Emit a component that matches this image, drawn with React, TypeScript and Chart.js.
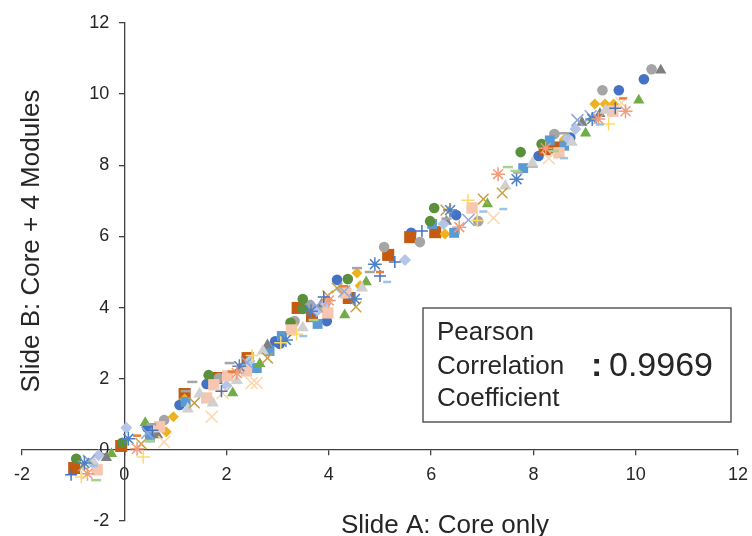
import React, { useEffect, useRef } from "react";
import { Chart, registerables } from "chart.js";

Chart.register(...registerables);

type P = [number, number];

const xTickValues = [-2, 0, 2, 4, 6, 8, 10, 12];
const yTickValues = [-2, 0, 2, 4, 6, 8, 10, 12];
const xTitle = "Slide A: Core only";
const yTitle = "Slide B: Core + 4 Modules";
const boxLines = ["Pearson", "Correlation", "Coefficient"];
const boxValue = ": 0.9969";

const blueCircle: P[] = [[0.45, 0.62], [1.08, 1.26], [1.61, 1.85], [2.95, 3.05], [3.04, 2.98], [3.96, 3.62], [4.16, 4.78], [5.61, 6.1], [6.49, 6.6], [8.1, 8.26], [8.72, 8.78], [9.67, 10.11], [10.16, 10.42]];
const orangeSquare: P[] = [[-0.98, -0.51], [-0.06, 0.11], [1.18, 1.57], [1.8, 2.02], [2.41, 2.58], [3.39, 3.99], [3.67, 3.76], [4.39, 4.27], [5.16, 5.48], [5.59, 5.98], [6.08, 6.12], [8.22, 8.45], [8.42, 8.5]];
const grayCircle: P[] = [[0.53, 0.42], [0.78, 0.84], [1.85, 2.02], [2.29, 2.3], [3.33, 3.62], [3.63, 4.07], [5.08, 5.7], [5.78, 5.84], [6.92, 6.43], [8.41, 8.88], [9.35, 10.11], [10.31, 10.7]];
const goldDiamond: P[] = [[0.82, 0.51], [0.96, 0.93], [1.18, 1.43], [3.3, 3.5], [3.86, 3.99], [4.55, 4.97], [4.61, 4.61], [6.27, 6.07], [8.6, 8.72], [9.2, 9.72], [9.4, 9.72], [9.57, 9.72]];
const blueSquare: P[] = [[0.5, 0.35], [1.2, 1.35], [2.59, 2.3], [2.84, 2.78], [3.08, 3.2], [3.78, 3.54], [6.02, 6.35], [6.45, 6.1], [7.8, 7.92], [8.32, 8.7], [8.6, 8.55]];
const greenCircle: P[] = [[-0.94, -0.25], [-0.04, 0.2], [1.65, 2.1], [3.25, 3.57], [3.49, 3.96], [3.49, 4.24], [4.37, 4.8], [5.98, 6.43], [6.06, 6.8], [7.75, 8.37], [8.16, 8.6]];
const greenTriangle: P[] = [[-0.25, -0.11], [0.41, 0.76], [2.12, 1.6], [2.65, 2.42], [4.31, 3.79], [4.73, 4.72], [7.1, 6.91], [9.02, 8.9], [9.16, 9.33], [10.06, 9.83]];
const darkGrayTriangle: P[] = [[-0.35, -0.22], [0.65, 0.42], [2.8, 2.95], [3.86, 4.1], [6.3, 6.42], [7.98, 8.03], [8.95, 9.2], [9.3, 9.45], [10.49, 10.67]];
const lightBlueDiamond: P[] = [[-0.5, -0.15], [0.04, 0.62], [2.0, 1.8], [2.45, 2.5], [3.76, 3.9], [3.94, 4.1], [4.25, 4.5], [5.49, 5.34], [6.24, 6.35], [8.67, 8.76], [8.82, 9.02]];
const pinkSquare: P[] = [[-0.53, -0.56], [0.69, 0.65], [1.61, 1.46], [1.75, 1.83], [2.02, 2.08], [2.39, 2.22], [3.27, 3.37], [3.98, 3.85], [4.33, 4.41], [6.8, 6.8], [8.5, 8.35], [9.55, 9.52]];
const lightGrayTriangle: P[] = [[-0.6, -0.35], [1.24, 1.15], [1.47, 1.57], [1.73, 1.32], [2.2, 1.95], [2.71, 2.78], [3.49, 3.43], [4.65, 4.55], [7.45, 7.42], [7.98, 8.06], [8.75, 8.65], [9.41, 9.55]];
const lightBlueX: P[] = [[-0.69, -0.31], [0.45, 0.48], [2.4, 2.45], [3.76, 4.05], [4.3, 4.45], [6.73, 6.46], [8.86, 9.27], [9.12, 9.38]];
const peachX: P[] = [[0.78, 0.22], [1.71, 0.93], [1.92, 1.6], [2.49, 1.88], [2.59, 1.88], [7.22, 6.52], [8.3, 8.2], [9.72, 9.75]];
const goldX: P[] = [[-0.8, -0.45], [0.33, 0.17], [1.37, 1.32], [2.8, 2.58], [3.98, 4.33], [4.16, 4.55], [4.53, 4.02], [6.29, 6.74], [7.02, 7.05], [7.39, 7.22]];
const blueStar: P[] = [[-0.78, -0.37], [0.08, 0.31], [2.25, 2.35], [3.16, 3.09], [3.65, 3.9], [4.51, 4.24], [4.9, 5.22], [6.37, 6.74], [7.67, 7.61], [9.15, 9.3]];
const salmonStar: P[] = [[-0.72, -0.67], [0.25, 0.03], [2.2, 2.16], [4.0, 4.2], [6.55, 6.26], [7.31, 7.75], [8.24, 8.48], [9.27, 9.3], [9.8, 9.52]];
const bluePlus: P[] = [[-1.04, -0.7], [0.55, 0.55], [1.9, 1.65], [3.9, 4.3], [5.0, 4.89], [5.29, 5.28], [5.82, 6.15], [9.6, 9.6]];
const yellowPlus: P[] = [[-0.84, -0.76], [0.37, -0.2], [2.5, 2.65], [3.06, 3.01], [3.37, 3.26], [6.72, 7.02], [6.9, 6.45], [9.47, 9.16]];
const grayDash: P[] = [[0.53, 0.72], [1.2, 1.65], [1.33, 1.91], [2.06, 2.44], [4.55, 5.11], [4.8, 5.0], [6.3, 6.5], [7.7, 7.8], [8.6, 8.9]];
const orangeDash: P[] = [[0.25, 0.4], [2.1, 2.2], [4.3, 4.6], [5.0, 5.0], [9.75, 9.88]];
const blueDash: P[] = [[-0.6, -0.45], [3.5, 3.2], [5.14, 4.72], [7.02, 6.7], [7.41, 6.77], [8.6, 8.2], [9.3, 9.15]];
const greenDash: P[] = [[-0.55, -0.85], [0.5, 0.25], [3.7, 3.65], [7.5, 7.95], [7.65, 7.84], [8.4, 8.4]];

const FONT = "'Liberation Sans', Arial, sans-serif";

type SeriesDef = { data: P[]; style: string; color: string; r: number; line?: boolean; bw?: number };

const series: SeriesDef[] = [
  { data: blueCircle, style: "circle", color: "#4472C4", r: 5.3 },
  { data: orangeSquare, style: "rect", color: "#C55A11", r: 8.5 },
  { data: grayCircle, style: "circle", color: "#A5A5A5", r: 5.3 },
  { data: goldDiamond, style: "rectRot", color: "#EEB220", r: 5.5 },
  { data: blueSquare, style: "rect", color: "#5B9BD5", r: 7 },
  { data: greenCircle, style: "circle", color: "#5A8F3C", r: 5.3 },
  { data: greenTriangle, style: "triangle", color: "#70AD47", r: 6.5 },
  { data: darkGrayTriangle, style: "triangle", color: "#7F7F7F", r: 6.5 },
  { data: lightBlueDiamond, style: "rectRot", color: "#B4C5E7", r: 6 },
  { data: pinkSquare, style: "rect", color: "#F6C6B0", r: 8 },
  { data: lightGrayTriangle, style: "triangle", color: "#D0D0D0", r: 7 },
  { data: lightBlueX, style: "crossRot", color: "#8EA9DB", r: 8.5, line: true, bw: 1.5 },
  { data: peachX, style: "crossRot", color: "#FFD5AA", r: 8.5, line: true, bw: 1.5 },
  { data: goldX, style: "crossRot", color: "#C9A040", r: 7.5, line: true, bw: 1.5 },
  { data: blueStar, style: "star", color: "#4F81C7", r: 7, line: true, bw: 1.5 },
  { data: salmonStar, style: "star", color: "#F19C7D", r: 7, line: true, bw: 1.5 },
  { data: bluePlus, style: "cross", color: "#4472C4", r: 6, line: true, bw: 1.5 },
  { data: yellowPlus, style: "cross", color: "#FFD966", r: 6.5, line: true, bw: 1.5 },
  { data: grayDash, style: "line", color: "#A5A5A5", r: 5, line: true, bw: 2.5 },
  { data: orangeDash, style: "line", color: "#ED7D31", r: 4, line: true, bw: 2.5 },
  { data: blueDash, style: "line", color: "#9DC3E6", r: 4, line: true, bw: 2.5 },
  { data: greenDash, style: "line", color: "#A9D18E", r: 5, line: true, bw: 2.5 },
];

const overlayPlugin = {
  id: "overlay",
  afterDraw(chart: any) {
    const ctx = chart.ctx as CanvasRenderingContext2D;
    ctx.save();
    ctx.fillStyle = "#262626";
    ctx.font = `26px ${FONT}`;
    ctx.textAlign = "center";
    ctx.textBaseline = "alphabetic";
    ctx.fillText(xTitle, 445, 533);
    ctx.translate(39, 241);
    ctx.rotate(-Math.PI / 2);
    ctx.fillText(yTitle, 0, 0);
    ctx.restore();

    ctx.save();
    ctx.fillStyle = "#ffffff";
    ctx.fillRect(423, 308, 308, 114);
    ctx.strokeStyle = "#595959";
    ctx.lineWidth = 1.5;
    ctx.strokeRect(423, 308, 308, 114);
    ctx.fillStyle = "#262626";
    ctx.font = `26px ${FONT}`;
    ctx.textAlign = "left";
    ctx.textBaseline = "alphabetic";
    ctx.fillText(boxLines[0], 437, 340);
    ctx.fillText(boxLines[1], 437, 374);
    ctx.fillText(boxLines[2], 437, 406);
    ctx.font = `bold 34px ${FONT}`;
    ctx.fillText(":", 591, 376);
    ctx.font = `34px ${FONT}`;
    ctx.fillText(boxValue.slice(2), 609, 376);
    ctx.restore();
  },
};

export default function App() {
  const ref = useRef<HTMLCanvasElement | null>(null);
  useEffect(() => {
    if (!ref.current) return;
    const chart = new Chart(ref.current, {
      type: "scatter",
      data: {
        datasets: series.map((s, i) => ({
          label: "S" + i,
          data: s.data.map(([x, y]) => ({ x, y })),
          pointStyle: s.style as any,
          pointRadius: s.r,
          pointHoverRadius: s.r,
          backgroundColor: s.line ? "rgba(0,0,0,0)" : s.color,
          borderColor: s.color,
          pointBorderWidth: s.line ? s.bw : 0,
          borderWidth: s.line ? s.bw : 0,
          order: series.length - i,
        })),
      },
      options: {
        animation: false,
        responsive: false,
        layout: { padding: { left: 22, top: 23, right: 12, bottom: 15 } },
        plugins: { legend: { display: false }, tooltip: { enabled: false } },
        scales: {
          x: {
            type: "linear",
            min: -2,
            max: 12,
            position: { y: 0 } as any,
            afterBuildTicks: (scale: any) => {
              scale.ticks = xTickValues.map((v) => ({ value: v }));
            },
            ticks: { font: { size: 18, family: FONT }, color: "#262626", padding: 4 },
            grid: {
              drawOnChartArea: false,
              drawTicks: true,
              tickLength: 10,
              tickBorderDash: [5, 30],
              color: "#404040",
              lineWidth: 1.3,
            },
            border: { display: true, color: "#404040", width: 1.3 },
          },
          y: {
            type: "linear",
            min: -2,
            max: 12,
            position: { x: 0 } as any,
            afterBuildTicks: (scale: any) => {
              scale.ticks = yTickValues.map((v) => ({ value: v }));
            },
            ticks: {
              font: { size: 18, family: FONT },
              color: "#262626",
              padding: 4,
              callback: (v: any) => String(v) + "   ",
            },
            grid: { drawOnChartArea: false, drawTicks: true, tickLength: 5, color: "#404040", lineWidth: 1.3 },
            border: { display: true, color: "#404040", width: 1.3 },
          },
        },
      },
      plugins: [overlayPlugin],
    });
    return () => chart.destroy();
  }, []);
  return (
    <div style={{ position: "absolute", left: 0, top: 0, width: 752, height: 536, background: "#fff" }}>
      <canvas ref={ref} width={752} height={536} style={{ display: "block" }} />
    </div>
  );
}
